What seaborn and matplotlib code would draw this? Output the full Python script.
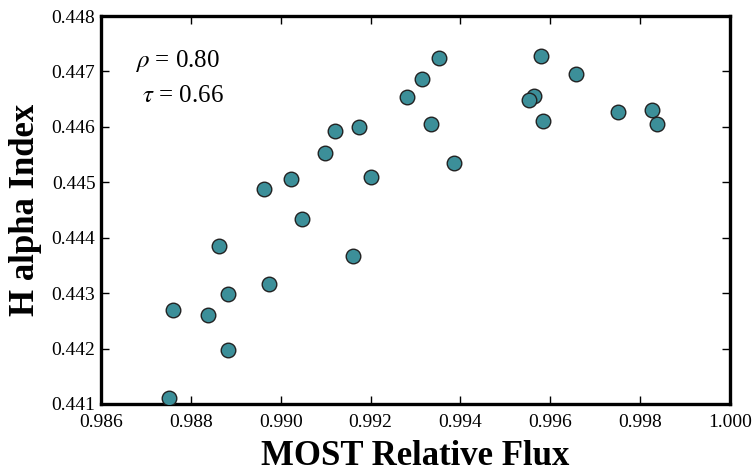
import matplotlib
matplotlib.use("Agg")
import matplotlib.pyplot as plt
import seaborn as sns
import pandas as pd
from matplotlib.ticker import FormatStrFormatter

flux = [0.98751, 0.98760, 0.98838, 0.98863, 0.98883, 0.98883, 0.98974, 0.98963,
        0.99023, 0.99047, 0.99099, 0.99121, 0.99161, 0.99174, 0.99201, 0.99281,
        0.99314, 0.99334, 0.99352, 0.99386, 0.99579, 0.99657, 0.99564, 0.99553,
        0.99584, 0.99751, 0.99827, 0.99838]
halpha = [0.44111, 0.44270, 0.44261, 0.44385, 0.44298, 0.44197, 0.44317, 0.44488,
          0.44506, 0.44434, 0.44553, 0.44593, 0.44367, 0.44600, 0.44510, 0.44654,
          0.44686, 0.44605, 0.44724, 0.44535, 0.44727, 0.44695, 0.44655, 0.44648,
          0.44611, 0.44626, 0.44630, 0.44605]
xticks = [0.986, 0.988, 0.990, 0.992, 0.994, 0.996, 0.998, 1.000]
yticks = [0.441, 0.442, 0.443, 0.444, 0.445, 0.446, 0.447, 0.448]
stats_text = [r"$\rho$ = 0.80", r"$\tau$ = 0.66"]

sns.set_style("ticks")
plt.rcParams["font.family"] = ["Liberation Serif", "DejaVu Serif"]
plt.rcParams["mathtext.fontset"] = "stix"
plt.rcParams["text.color"] = "black"
plt.rcParams["axes.labelcolor"] = "black"

df = pd.DataFrame({"flux": flux, "halpha": halpha})

fig = plt.figure(figsize=(7.56, 4.74), dpi=100)
ax = fig.add_axes([0.1336, 0.1477, 0.832, 0.8185])
sns.scatterplot(data=df, x="flux", y="halpha", ax=ax, s=110, color="#3c8f99",
                edgecolor="#222222", linewidth=1.0, zorder=3)

ax.set_xlim(0.986, 1.000)
ax.set_ylim(0.441, 0.448)
ax.set_xticks(xticks)
ax.set_yticks(yticks)
ax.xaxis.set_major_formatter(FormatStrFormatter("%.3f"))
ax.yaxis.set_major_formatter(FormatStrFormatter("%.3f"))
ax.tick_params(direction="in", length=6, width=1, top=True, right=True,
               labelsize=14, colors="black")
ax.tick_params(axis="x", pad=7)
ax.tick_params(axis="y", pad=4)
for sp in ax.spines.values():
    sp.set_linewidth(2.4)
    sp.set_color("black")

ax.set_xlabel("MOST Relative Flux", fontsize=25, fontweight="bold", labelpad=7)
ax.set_ylabel("H alpha Index", fontsize=25, fontweight="bold", labelpad=7)

ax.text(0.054, 0.885, stats_text[0], transform=ax.transAxes, fontsize=18,
        ha="left", va="center")
ax.text(0.065, 0.795, stats_text[1], transform=ax.transAxes, fontsize=18,
        ha="left", va="center")

fig.savefig("out.png", dpi=100)
